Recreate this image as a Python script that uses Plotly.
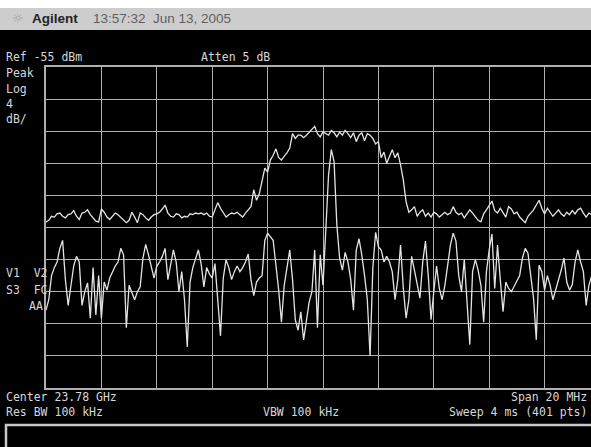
import numpy as np
import plotly.graph_objects as go

# ---------------- data ----------------
center_ghz = 23.78
span_mhz = 20.0
n_points = 201          # displayed sweep points (every other of 401)
freq_offset_mhz = np.linspace(-span_mhz / 2, span_mhz / 2, n_points)

ref_level_dbm = -55
db_per_div = 4
n_divs = 10

# upper trace (max hold) in dBm
trace_upper = [
    -74.3, -74.1, -73.6, -73.7, -73.3, -73.2, -73.6, -73.8, -73.4, -73.3,
    -72.9, -73.6, -74.0, -73.2, -73.1, -72.8, -73.4, -73.8, -74.2, -74.3,
    -72.7, -73.1, -73.7, -74.0, -73.6, -73.2, -73.4, -73.7, -74.0, -74.4,
    -74.1, -73.1, -73.7, -74.4, -73.2, -73.4, -73.8, -74.1, -73.7, -73.4,
    -73.3, -73.1, -72.7, -72.2, -73.2, -73.6, -73.7, -73.3, -73.4, -73.8,
    -73.6, -73.7, -73.3, -73.4, -73.2, -73.3, -73.2, -73.4, -73.2, -73.6,
    -73.7, -72.8, -71.9, -72.6, -73.1, -73.7, -73.4, -73.2, -73.3, -73.1,
    -73.4, -73.7, -73.2, -72.8, -72.4, -70.3, -71.6, -70.8, -69.3, -67.6,
    -68.1, -66.6, -66.0, -65.2, -66.3, -66.6, -66.1, -65.7, -65.1, -63.3,
    -63.9, -63.5, -63.5, -63.8, -63.5, -63.1, -62.7, -62.4, -63.3, -63.7,
    -63.1, -63.3, -63.5, -62.9, -63.2, -63.7, -63.1, -63.5, -62.9, -63.3,
    -63.8, -63.2, -64.3, -63.5, -63.2, -64.2, -63.3, -63.5, -63.9, -64.6,
    -64.3, -66.3, -65.6, -67.0, -66.2, -65.3, -66.3, -65.7, -67.2, -69.1,
    -71.8, -73.1, -72.8, -72.4, -73.6, -73.1, -72.8, -73.6, -73.2, -73.7,
    -73.1, -73.3, -73.7, -73.4, -73.1, -73.4, -73.2, -72.4, -73.1, -73.4,
    -73.2, -73.8, -73.3, -72.8, -73.2, -73.6, -74.1, -74.3, -73.3, -72.8,
    -72.3, -71.7, -72.9, -73.2, -72.6, -73.2, -73.7, -72.4, -72.7, -73.3,
    -73.1, -73.7, -74.1, -74.4, -73.6, -73.2, -72.8, -72.2, -71.6, -72.6,
    -73.3, -72.6, -73.1, -73.6, -73.2, -72.8, -73.3, -73.6, -73.1, -73.4,
    -72.9, -73.3, -72.8, -72.6, -73.2, -73.7, -73.2, -73.4, -73.4, -73.2,
    -73.5,
]

# lower trace (clear/write) in dBm
trace_lower = [
    -85.3, -84.0, -81.0, -80.0, -79.3, -77.6, -76.6, -81.5, -84.7, -82.2,
    -79.8, -78.6, -79.3, -84.7, -83.0, -81.9, -86.3, -80.0, -85.9, -81.0,
    -86.3, -81.8, -82.8, -81.3, -80.5, -79.8, -79.3, -77.6, -78.4, -87.5,
    -82.2, -83.0, -84.0, -83.0, -82.4, -78.8, -77.1, -78.4, -80.0, -81.3,
    -79.8, -79.3, -78.6, -77.6, -81.5, -79.8, -77.8, -79.3, -83.0, -80.5,
    -84.0, -89.9, -81.8, -80.0, -78.8, -77.8, -79.5, -82.4, -80.0, -80.8,
    -81.3, -79.5, -84.0, -88.5, -81.3, -79.0, -80.0, -81.5, -80.5, -79.8,
    -80.5, -80.0, -79.3, -78.3, -81.5, -83.5, -81.8, -81.3, -81.0, -76.6,
    -75.7, -76.1, -76.6, -79.7, -82.8, -86.8, -82.2, -80.0, -77.8, -81.5,
    -86.5, -87.8, -85.5, -89.0, -86.3, -84.3, -83.0, -77.8, -87.5, -78.4,
    -82.2, -75.6, -68.5, -65.3, -66.8, -74.7, -78.8, -80.3, -78.1, -79.3,
    -81.5, -85.3, -77.8, -76.4, -78.4, -81.0, -84.0, -91.0, -80.0, -75.6,
    -77.4, -77.8, -79.3, -78.6, -79.3, -80.5, -84.0, -81.5, -77.2, -82.6,
    -86.3, -84.0, -78.6, -80.3, -81.9, -83.8, -79.3, -76.7, -81.0, -86.5,
    -83.0, -79.8, -82.6, -84.0, -82.2, -80.0, -77.2, -75.7, -76.7, -81.0,
    -83.0, -79.0, -84.0, -89.6, -80.5, -79.0, -80.3, -82.2, -86.8, -80.5,
    -77.8, -75.8, -82.6, -77.2, -81.5, -85.5, -81.8, -82.6, -83.0, -82.3,
    -81.5, -81.0, -78.8, -77.6, -78.2, -81.0, -83.8, -89.0, -79.7, -80.5,
    -82.8, -81.0, -82.2, -84.0, -82.8, -81.5, -80.3, -78.8, -81.8, -82.8,
    -82.1, -79.3, -77.8, -79.3, -80.5, -84.7, -82.2, -81.0, -80.3, -82.0,
    -81.5,
]

# ---------------- layout helpers ----------------
W, H = 591, 447
L, R, T, B = 46, 0, 67, 59
PW, PH = W - L - R, H - T - B


def px(x):
    return (x - L) / PW


def py(y):
    return (H - B - y) / PH


div_px = 55.4
x_right = -span_mhz / 2 + PW / div_px * (span_mhz / n_divs)

trace_color = "rgb(228,228,228)"
grid_color = "rgb(175,175,175)"
text_color = "rgb(215,215,215)"
mono = "DejaVu Sans Mono, Liberation Mono, monospace"

fig = go.Figure()
fig.add_trace(go.Scatter(x=freq_offset_mhz, y=trace_upper, mode="lines",
                         line=dict(color=trace_color, width=1.3),
                         hoverinfo="skip", showlegend=False))
fig.add_trace(go.Scatter(x=freq_offset_mhz, y=trace_lower, mode="lines",
                         line=dict(color=trace_color, width=1.3),
                         hoverinfo="skip", showlegend=False))

shapes = [
    # white strip and grey title bar at top
    dict(type="rect", xref="paper", yref="paper", x0=px(0), x1=px(W),
         y0=py(0), y1=py(8), fillcolor="white", line=dict(width=0), layer="below"),
    dict(type="rect", xref="paper", yref="paper", x0=px(0), x1=px(W),
         y0=py(8), y1=py(30), fillcolor="rgb(205,205,205)", line=dict(width=0), layer="below"),
    # bottom message box
    dict(type="rect", xref="paper", yref="paper", x0=px(6), x1=px(W + 5),
         y0=py(425), y1=py(H + 5), fillcolor="black",
         line=dict(color="rgb(200,200,200)", width=2.5), layer="above"),
]

annotations = []


def label(text, x, y, anchor="left", size=11.5, color=text_color, family=mono):
    annotations.append(dict(text=text, x=px(x), y=py(y), xref="paper", yref="paper",
                            xanchor=anchor, yanchor="middle", showarrow=False,
                            font=dict(family=family, size=size, color=color)))


label("Ref -55 dBm", 4, 57)
label("Atten 5 dB", 199, 57)
label("Peak", 4, 73)
label("Log", 4, 89)
label("4", 4, 104)
label("dB/", 4, 119)
label("V1  V2", 4, 273)
label("S3  FC", 4, 290)
label("AA", 45, 306, anchor="right")
label("Center 23.78 GHz", 4, 397)
label("Span 20 MHz", 589, 397, anchor="right")
label("Res BW 100 kHz", 4, 412)
label("VBW 100 kHz", 261, 412)
label("Sweep 4 ms (401 pts)", 589, 412, anchor="right")
# title bar
label("☼", 10, 19, size=13, color="rgb(165,165,165)", family="DejaVu Sans")
label("<b>Agilent</b>", 30, 19, size=13.5, color="rgb(35,35,35)", family="Liberation Sans, Arial")
label("13:57:32  Jun 13, 2005", 91, 19, size=13.5, color="rgb(95,95,95)", family="Liberation Sans Narrow, Liberation Sans")

fig.update_layout(
    width=W, height=H,
    margin=dict(l=L, r=R, t=T, b=B, pad=0),
    paper_bgcolor="black", plot_bgcolor="black",
    shapes=shapes, annotations=annotations,
    xaxis=dict(range=[-span_mhz / 2, x_right], dtick=span_mhz / n_divs, tick0=-span_mhz / 2,
               showgrid=True, gridcolor=grid_color, gridwidth=1.4,
               zeroline=False, showticklabels=False, ticks="",
               showline=True, linecolor=grid_color, linewidth=1.5, mirror=True,
               fixedrange=True),
    yaxis=dict(range=[ref_level_dbm - n_divs * db_per_div, ref_level_dbm], dtick=db_per_div,
               tick0=ref_level_dbm, showgrid=True, gridcolor=grid_color, gridwidth=1.4,
               zeroline=False, showticklabels=False, ticks="",
               showline=True, linecolor=grid_color, linewidth=1.5, mirror=False,
               fixedrange=True),
)

fig.write_html("out.html", config={"displayModeBar": False},
               post_script="document.body.style.margin='0';document.body.style.padding='0';"
                           "document.documentElement.style.overflow='hidden';")
